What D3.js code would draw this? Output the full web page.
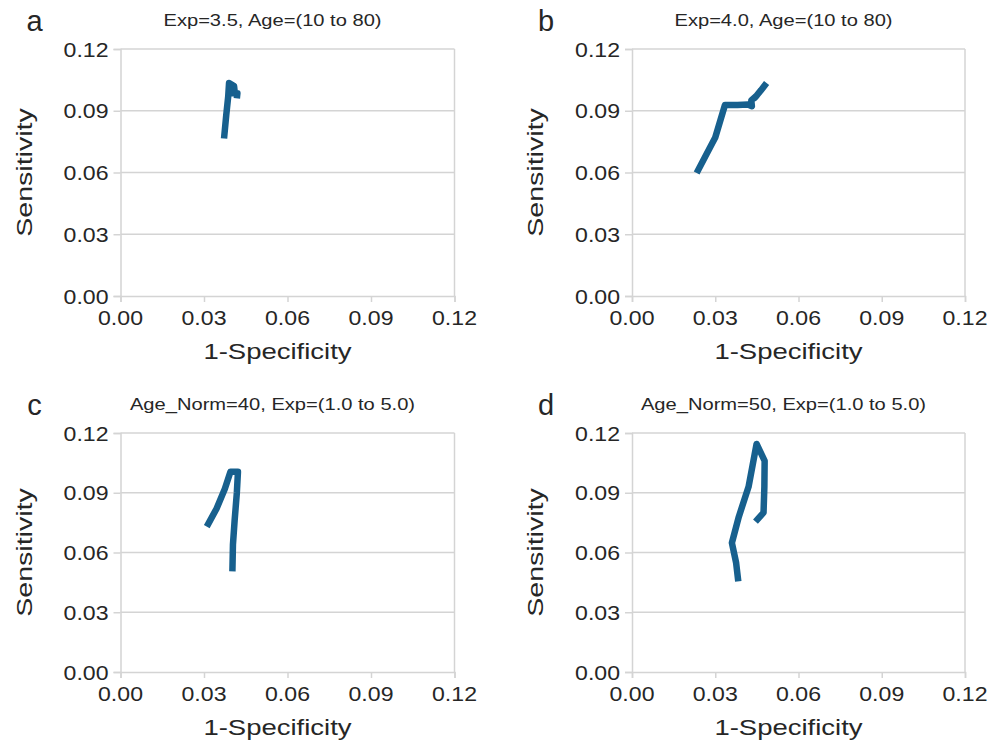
<!DOCTYPE html>
<html>
<head>
<meta charset="utf-8">
<script src="https://cdn.jsdelivr.net/npm/d3@7"></script>
<style>
  html, body { margin: 0; padding: 0; background: #fff; }
  svg { display: block; font-family: "Liberation Sans", Arial, sans-serif; }
</style>
</head>
<body>
<div id="chart"></div>
<script>
// tick values shared by both axes
const ticks = [0, 0.03, 0.06, 0.09, 0.12];

const panelLetters = ["a", "b", "c", "d"];
const panelTitles = [
    "Exp=3.5, Age=(10 to 80)",
    "Exp=4.0, Age=(10 to 80)",
    "Age_Norm=40, Exp=(1.0 to 5.0)",
    "Age_Norm=50, Exp=(1.0 to 5.0)"
];
const xTitle = "1-Specificity";
const yTitle = "Sensitivity";

// [1-specificity, sensitivity]
const rocA = [[0.0372, 0.0765], [0.0380, 0.0880], [0.0387, 0.0970], [0.0390, 0.1035],
    [0.0408, 0.1020], [0.0410, 0.0995], [0.0400, 0.0985], [0.0420, 0.0985], [0.0418, 0.0960]];
const rocB = [[0.0233, 0.0598], [0.0265, 0.0680], [0.0300, 0.0770], [0.0335, 0.0928],
    [0.0380, 0.0928], [0.0418, 0.0930], [0.0432, 0.0922], [0.0430, 0.0950], [0.0450, 0.0975],
    [0.0442, 0.0962], [0.0465, 0.1000], [0.0485, 0.1035]];
const rocC = [[0.0310, 0.0730], [0.0345, 0.0820], [0.0375, 0.0920], [0.0395, 0.1005],
    [0.0422, 0.1005], [0.0418, 0.0900], [0.0410, 0.0760], [0.0404, 0.0640], [0.0402, 0.0505]];
const rocD = [[0.0383, 0.0455], [0.0375, 0.0550], [0.0360, 0.0648], [0.0385, 0.0780],
    [0.0420, 0.0930], [0.0449, 0.1145], [0.0478, 0.1060], [0.0477, 0.0930], [0.0474, 0.0800],
    [0.0445, 0.0755]];
const rocData = [rocA, rocB, rocC, rocD];

const width = 996, height = 751;
const lineColor = "#17608e";
const gridColor = "#d4d4d4";
const textColor = "#262626";

// where each plot area sits
const layout = [
    { x0: 120.5, x1: 454.5, y0: 296, y1: 49 },
    { x0: 632, x1: 965, y0: 296, y1: 49 },
    { x0: 120.5, x1: 454.5, y0: 672, y1: 433 },
    { x0: 632, x1: 965, y0: 672, y1: 433 }
];

const svg = d3.select("#chart").append("svg")
    .attr("width", width)
    .attr("height", height);

// text with a horizontal stretch, the original lettering is wide
function label(g, str, x, y, size, sx, anchor, rot) {
    return g.append("text")
        .attr("transform", `translate(${x},${y}) rotate(${rot || 0}) scale(${sx},1)`)
        .attr("text-anchor", anchor)
        .attr("font-size", size + "px")
        .attr("fill", textColor)
        .text(str);
}

function drawPanel(i) {
    const L = layout[i];
    const x = d3.scaleLinear().domain([0, 0.12]).range([L.x0, L.x1]);
    const y = d3.scaleLinear().domain([0, 0.12]).range([L.y0, L.y1]);
    const g = svg.append("g");

    // horizontal grid lines
    g.selectAll("line.grid")
        .data(ticks.slice(1))
        .enter().append("line")
        .attr("class", "grid")
        .attr("x1", L.x0).attr("x2", L.x1)
        .attr("y1", d => y(d)).attr("y2", d => y(d))
        .attr("stroke", gridColor).attr("stroke-width", 1.5);

    // right border
    g.append("line")
        .attr("x1", L.x1).attr("x2", L.x1)
        .attr("y1", L.y1).attr("y2", L.y0)
        .attr("stroke", gridColor).attr("stroke-width", 1.5);

    // y axis
    const yAxis = g.append("g")
        .attr("transform", `translate(${L.x0},0)`)
        .call(d3.axisLeft(y).tickValues(ticks).tickSize(7).tickFormat(() => ""));
    // x axis
    const xAxis = g.append("g")
        .attr("transform", `translate(0,${L.y0})`)
        .call(d3.axisBottom(x).tickValues(ticks).tickSize(6).tickFormat(() => ""));
    [xAxis, yAxis].forEach(a => {
        a.select(".domain").attr("stroke", gridColor).attr("stroke-width", 1.5);
        a.selectAll(".tick line").attr("stroke", gridColor).attr("stroke-width", 1.5);
    });

    // tick labels
    ticks.forEach(t => {
        label(g, d3.format(".2f")(t), L.x0 - 12, y(t) + 7.5, 21, 1.1, "end");
        label(g, d3.format(".2f")(t), x(t), L.y0 + 29, 21, 1.1, "middle");
    });

    // axis titles
    const cx = (L.x0 + L.x1) / 2;
    const cy = (L.y0 + L.y1) / 2;
    label(g, xTitle, cx - 10, L.y0 + 63, 22, 1.25, "middle");
    label(g, yTitle, L.x0 - 89, cy, 22, 1.3, "middle", -90);

    // title and panel letter
    label(g, panelTitles[i], cx - 15, L.y1 - 23, 16.5, 1.22, "middle");
    label(g, panelLetters[i], L.x0 - 86, L.y1 - 18, 29, 1, "middle");

    // ROC path
    const line = d3.line().x(d => x(d[0])).y(d => y(d[1]));
    g.append("path")
        .datum(rocData[i])
        .attr("d", line)
        .attr("fill", "none")
        .attr("stroke", lineColor)
        .attr("stroke-width", 6.5)
        .attr("stroke-linejoin", "round")
        .attr("stroke-linecap", "butt");
}

panelLetters.forEach((_, i) => drawPanel(i));
</script>
</body>
</html>
